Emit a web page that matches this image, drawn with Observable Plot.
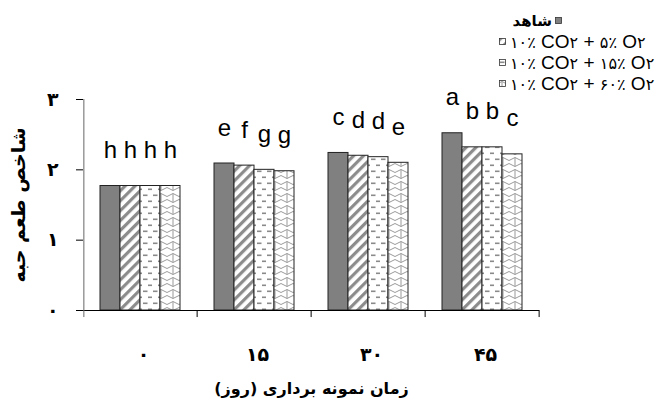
<!DOCTYPE html>
<html><head><meta charset="utf-8">
<script src="https://cdn.jsdelivr.net/npm/d3@7"></script>
<script src="https://cdn.jsdelivr.net/npm/@observablehq/plot@0.6"></script>
<style>
body{margin:0;background:#fff}
#wrap{position:relative;width:662px;height:403px}
#legend{position:absolute;left:499px;top:10px;font-family:"Liberation Sans",Arial,"DejaVu Sans",sans-serif;font-size:19px;color:#000}
.row{height:21px;display:flex;align-items:center;white-space:nowrap}
.sw{width:7px;height:7px;display:block;flex:none}
.fa{font-family:"DejaVu Sans",sans-serif;font-weight:bold;font-size:15px}
.dg{font-family:"DejaVu Sans",sans-serif;font-size:16px}
</style></head><body>
<svg width="0" height="0" style="position:absolute">
<defs>
<pattern id="pStripe" patternUnits="userSpaceOnUse" width="7" height="7" patternTransform="rotate(45)">
 <rect width="7" height="7" fill="#fff"/><rect x="0" width="3.2" height="7" fill="#8c8c8c"/>
</pattern>
<pattern id="pDash" patternUnits="userSpaceOnUse" width="10" height="12">
 <rect width="10" height="12" fill="#fff"/>
 <rect x="1" y="2.5" width="4.5" height="1.6" fill="#8a8a8a"/>
 <rect x="6" y="8.5" width="4" height="1.6" fill="#8a8a8a"/>
</pattern>
<pattern id="pScale" patternUnits="userSpaceOnUse" width="12" height="12">
 <rect width="12" height="12" fill="#fff"/>
 <path d="M0,3 Q3,0 6,3 Q9,6 12,3 M0,9 Q3,12 6,9 Q9,6 12,9 M3,1.5 L3,10.5" fill="none" stroke="#9a9a9a" stroke-width="1"/>
</pattern>
</defs></svg>
<div id="wrap"><div id="legend"></div></div>
<script>
const days = ["۰", "۱۵", "۳۰", "۴۵"];
const treatments = ["شاهد", "۱۰٪ CO۲ + ۵٪ O۲", "۱۰٪ CO۲ + ۱۵٪ O۲", "۱۰٪ CO۲ + ۶۰٪ O۲"];
const control = [1.77, 2.09, 2.24, 2.52];
const co2o5 = [1.77, 2.06, 2.20, 2.32];
const co2o15 = [1.77, 2.00, 2.18, 2.32];
const co2o60 = [1.77, 1.98, 2.10, 2.22];
const lettersControl = ["h", "e", "c", "a"];
const letters5 = ["h", "f", "d", "b"];
const letters15 = ["h", "g", "d", "b"];
const letters60 = ["h", "g", "e", "c"];
const yTicks = [0, 1, 2, 3];
const yTickLabels = ["۰", "۱", "۲", "۳"];
const fills = ["#808080", "url(#pStripe)", "url(#pDash)", "url(#pScale)"];
const yTitle = "شاخص طعم حبه";
const xTitle = "زمان نمونه برداری (روز)";

const series = [control, co2o5, co2o15, co2o60];
const letters = [lettersControl, letters5, letters15, letters60];
const rows = [];
days.forEach((day, j) => treatments.forEach((t, i) => rows.push({day, treatment: t, value: series[i][j], letter: letters[i][j], fill: fills[i]})));

const W = 662, H = 403, mL = 81, mR = 122, mT = 99, mB = 93;
const facetStep = (W - mL - mR) / days.length;
const padOuter = 0.8;
const xStep = facetStep / (treatments.length + 2 * padOuter);
const edgeDx = xStep * (0.5 + padOuter);

const chart = Plot.plot({
  width: W, height: H, marginLeft: mL, marginRight: mR, marginTop: mT, marginBottom: mB,
  style: {fontFamily: "'Liberation Sans', Arial, sans-serif", background: "#fff", color: "#000", overflow: "visible"},
  fx: {domain: days, padding: 0, axis: null},
  x: {domain: treatments, paddingInner: 0, paddingOuter: padOuter, axis: null},
  y: {domain: [0, 3], axis: null},
  color: {type: "identity"},
  marks: [
    Plot.barY(rows, {fx: "day", x: "treatment", y: "value", fill: "fill", stroke: "#222", strokeWidth: 1}),
    Plot.text(rows, {fx: "day", x: "treatment", y: "value", text: "letter", dy: -28, lineAnchor: "bottom", fontSize: 24, fill: "#000"}),
    Plot.ruleY([0], {stroke: "#000", strokeWidth: 1}),
    Plot.ruleX([treatments[treatments.length - 1]], {x: d => d, y1: -0.1, y2: 0, dx: edgeDx, stroke: "#000"}),
    Plot.ruleX([days[0]], {fx: d => d, x: () => treatments[0], y1: -0.1, y2: 3, dx: -edgeDx, stroke: "#666"}),
    Plot.axisY({ticks: yTicks, tickFormat: d => yTickLabels[yTicks.indexOf(d)], tickSize: 7, tickPadding: 18,
      fontSize: 19, fontWeight: "bold", fontFamily: "DejaVu Sans", label: null}),
    Plot.axisY({ticks: [], label: yTitle, labelAnchor: "center", labelArrow: "none", labelOffset: 72, dy: -27,
      fontSize: 19, fontWeight: "bold", fontFamily: "DejaVu Sans"}),
    Plot.axisFx({anchor: "bottom", tickSize: 0, tickPadding: 37, dx: 3, fontSize: 19, fontWeight: "bold", fontFamily: "DejaVu Sans", label: null}),
    Plot.axisFx({anchor: "bottom", ticks: [], label: xTitle, labelAnchor: "center", labelArrow: "none", labelOffset: 83, dx: 14,
      fontSize: 16, fontWeight: "bold", fontFamily: "DejaVu Sans"})
  ]
});
document.getElementById("wrap").prepend(chart);

const legend = document.getElementById("legend");
treatments.forEach((t, i) => {
  const row = document.createElement("div");
  row.className = "row";
  const sw = `<svg class="sw" viewBox="0 0 7 7"><rect x="0.5" y="0.5" width="6" height="6" fill="${fills[i]}" stroke="#333" stroke-width="0.8"/></svg>`;
  if (i === 0) {
    row.style.width = "63px";
    row.style.justifyContent = "flex-end";
    row.innerHTML = `<span class="fa" dir="rtl">${t}</span><span style="width:3px"></span>${sw}`;
  } else {
    const txt = t.replace(/([۰-۹٪]+)/g, '<span class="dg">$1</span>');
    row.innerHTML = `${sw}<span style="width:4px"></span><span dir="ltr">${txt}</span>`;
  }
  legend.appendChild(row);
});
</script>
</body></html>
